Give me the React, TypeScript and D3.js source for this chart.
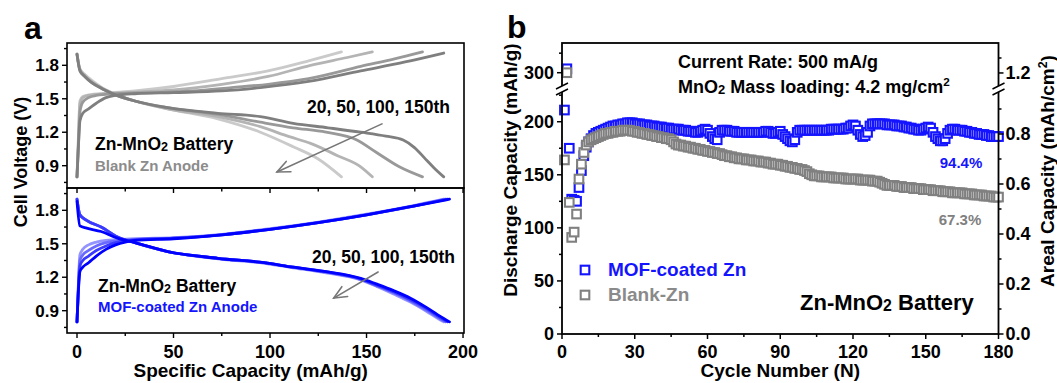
import React from 'react';
import * as d3 from 'd3';

// ---------- Panel a data: [specific capacity (mAh/g), voltage (V)] ----------
const cycleLabels = ['20th', '50th', '100th', '150th'];
const blankColors = ['#7f7f7f', '#999999', '#b4b4b4', '#cacaca'];
const mofColors = ['#0000ff', '#3a3aff', '#6a6aff', '#9494ff'];

const blankCharge20 = [[0,0.80],[0.8,1.10],[1.5,1.30],[3,1.37],[6,1.41],[10,1.46],[15,1.51],[20,1.53],[30,1.545],[50,1.555],[75,1.57],[95,1.60],[120,1.655],[147,1.75],[170,1.83],[190,1.91]];
const blankCharge50 = [[0,0.80],[0.8,1.10],[1.5,1.38],[3,1.47],[6,1.51],[10,1.53],[20,1.545],[40,1.555],[60,1.57],[80,1.60],[99,1.63],[120,1.68],[147,1.79],[165,1.86],[179,1.92]];
const blankCharge100 = [[0,0.80],[0.8,1.15],[1.5,1.45],[3,1.51],[6,1.53],[15,1.545],[30,1.56],[50,1.58],[75,1.63],[99,1.70],[121,1.80],[140,1.87],[153,1.92]];
const blankCharge150 = [[0,0.80],[0.8,1.20],[1.5,1.48],[3,1.52],[6,1.535],[15,1.55],[30,1.57],[50,1.61],[75,1.68],[99,1.75],[120,1.84],[137,1.92]];

const blankDis20 = [[0,1.90],[1.5,1.75],[4,1.70],[8,1.64],[13,1.59],[20,1.535],[30,1.48],[47,1.42],[73,1.37],[95,1.34],[112,1.28],[130,1.24],[147,1.20],[160,1.165],[169,1.13],[175,1.06],[180,0.97],[185,0.88],[190,0.80]];
const blankDis50 = [[0,1.90],[1.5,1.76],[4,1.70],[8,1.64],[13,1.59],[20,1.535],[30,1.48],[47,1.42],[73,1.36],[95,1.29],[112,1.24],[129,1.20],[145,1.13],[155,1.02],[167,0.89],[179,0.80]];
const blankDis100 = [[0,1.90],[1.5,1.76],[4,1.71],[8,1.65],[13,1.595],[20,1.54],[30,1.48],[47,1.41],[73,1.34],[95,1.25],[110,1.16],[121,1.10],[135,0.99],[147,0.89],[153,0.80]];
const blankDis150 = [[0,1.90],[1.5,1.77],[4,1.72],[8,1.66],[13,1.60],[20,1.54],[30,1.48],[47,1.41],[73,1.32],[95,1.20],[112,1.07],[125,0.96],[137,0.80]];

const mofCharge20 = [[0,0.80],[0.8,1.10],[1.5,1.25],[3,1.29],[6,1.33],[10,1.39],[15,1.45],[20,1.49],[25,1.515],[30,1.53],[50,1.545],[75,1.58],[100,1.63],[125,1.69],[150,1.76],[175,1.84],[193,1.90]];
const mofCharge50 = [[0,0.80],[0.8,1.12],[1.5,1.30],[3,1.35],[6,1.39],[10,1.44],[15,1.48],[20,1.51],[25,1.525],[30,1.535],[50,1.55],[75,1.58],[100,1.63],[125,1.69],[150,1.76],[175,1.84],[192,1.90]];
const mofCharge100 = [[0,0.80],[0.8,1.15],[1.5,1.35],[3,1.40],[6,1.44],[10,1.48],[15,1.51],[20,1.525],[30,1.54],[50,1.55],[75,1.58],[100,1.63],[125,1.69],[150,1.76],[175,1.84],[191,1.90]];
const mofCharge150 = [[0,0.80],[0.8,1.18],[1.5,1.40],[3,1.45],[6,1.49],[10,1.515],[15,1.53],[20,1.535],[30,1.545],[50,1.555],[75,1.585],[100,1.635],[125,1.695],[150,1.765],[175,1.845],[190,1.90]];

const mofDis20 = [[0,1.88],[1.5,1.66],[5,1.64],[12.5,1.61],[21,1.55],[30,1.51],[47,1.43],[73,1.37],[97,1.33],[112,1.29],[129,1.25],[147,1.19],[155,1.14],[164,1.08],[173,1.01],[181,0.93],[190,0.83],[193,0.80]];
const mofDis50 = [[0,1.90],[1.5,1.76],[5,1.71],[12.5,1.65],[21,1.56],[30,1.51],[47,1.43],[73,1.37],[97,1.33],[112,1.29],[129,1.25],[147,1.185],[155,1.13],[164,1.07],[173,0.995],[181,0.92],[189,0.83],[192,0.80]];
const mofDis100 = [[0,1.90],[1.5,1.76],[5,1.71],[12.5,1.65],[21,1.56],[30,1.51],[47,1.43],[73,1.37],[97,1.33],[112,1.29],[129,1.245],[147,1.18],[155,1.125],[164,1.06],[173,0.985],[181,0.905],[188,0.83],[191,0.80]];
const mofDis150 = [[0,1.90],[1.5,1.76],[5,1.71],[12.5,1.65],[21,1.56],[30,1.51],[47,1.43],[73,1.365],[97,1.325],[112,1.285],[129,1.24],[147,1.175],[155,1.12],[164,1.05],[173,0.975],[181,0.895],[187,0.83],[190,0.80]];

const blankCharge = [blankCharge20, blankCharge50, blankCharge100, blankCharge150];
const blankDischarge = [blankDis20, blankDis50, blankDis100, blankDis150];
const mofCharge = [mofCharge20, mofCharge50, mofCharge100, mofCharge150];
const mofDischarge = [mofDis20, mofDis50, mofDis100, mofDis150];

const capTicks = [0, 50, 100, 150, 200];
const capMinor = [25, 75, 125, 175];
const voltTicks = [0.9, 1.2, 1.5, 1.8];
const voltMinor = [0.75, 1.05, 1.35, 1.65, 1.95];

// ---------- Panel b data: discharge capacity (mAh/g) per cycle 1..180 ----------
const mofCapacity = [
  211, 305, 175, 127, 126, 125, 138, 154, 168, 176,
  181, 184, 187, 189, 190, 191, 192, 193, 194, 195,
  196, 196, 197, 197, 198, 198, 199, 199, 199, 198,
  198, 198, 197, 197, 197, 196, 196, 196, 195, 195,
  195, 194, 194, 194, 193, 193, 193, 193, 192, 192,
  192, 191, 191, 191, 190, 190, 191, 192, 193, 192,
  189, 186, 184, 183, 190, 192, 192, 192, 191, 191,
  191, 190, 190, 190, 190, 190, 190, 190, 190, 190,
  190, 190, 190, 191, 191, 190, 189, 189, 190, 191,
  188, 186, 184, 182, 181, 183, 190, 192, 192, 192,
  192, 192, 192, 192, 192, 192, 192, 192, 192, 192,
  193, 193, 193, 193, 193, 193, 194, 194, 196, 197,
  196, 192, 188, 186, 187, 190, 196, 198, 198, 198,
  198, 198, 198, 197, 197, 197, 197, 196, 196, 196,
  195, 195, 194, 194, 193, 193, 192, 192, 193, 194,
  195, 194, 190, 186, 184, 182, 182, 184, 189, 192,
  193, 193, 192, 192, 192, 191, 191, 190, 190, 189,
  189, 188, 188, 188, 187, 187, 186, 186, 186, 186,
];
const blankCapacity = [
  164, 300, 124, 91, 96, 113, 146, 160, 171, 178,
  181, 183, 184, 185, 186, 187, 188, 189, 189, 190,
  190, 191, 191, 191, 192, 192, 192, 192, 191, 191,
  190, 190, 189, 189, 188, 188, 187, 187, 186, 186,
  185, 185, 184, 184, 183, 181, 179, 178, 178, 177,
  177, 176, 176, 175, 175, 174, 174, 173, 173, 172,
  172, 171, 171, 170, 170, 169, 168, 168, 167, 167,
  166, 166, 165, 165, 165, 164, 164, 164, 163, 163,
  163, 162, 162, 162, 161, 161, 160, 160, 160, 159,
  159, 158, 158, 157, 157, 156, 156, 155, 155, 154,
  153, 151, 150, 149, 149, 149, 148, 148, 148, 148,
  148, 147, 147, 147, 147, 147, 146, 146, 146, 146,
  146, 146, 145, 145, 145, 145, 145, 144, 144, 144,
  143, 142, 141, 140, 140, 140, 140, 139, 139, 139,
  138, 138, 138, 138, 137, 137, 137, 137, 136, 136,
  136, 136, 135, 135, 135, 135, 134, 134, 134, 134,
  133, 133, 133, 133, 133, 132, 132, 132, 132, 131,
  131, 131, 131, 130, 130, 130, 130, 129, 129, 129,
];
const cycleTicks = [0, 30, 60, 90, 120, 150, 180];
const cycleMinor = [15, 45, 75, 105, 135, 165];
const capLowTicks = [0, 50, 100, 150, 200];
const capLowMinor = [25, 75, 125, 175, 225];
const capHighTicks = [300];
const capHighMinor = [325];
const arealLowTicks = [0.0, 0.2, 0.4, 0.6, 0.8];
const arealLowMinor = [0.1, 0.3, 0.5, 0.7, 0.9];
const arealHighTicks = [1.2];
const arealHighMinor = [1.3];
const retentionLabels = ['94.4%', '67.3%'];

const FONT = "'Liberation Sans', Arial, Helvetica, sans-serif";
const BLUE = '#1414ff';
const GRAY = '#808080';

function Arrow({ x1, y1, x2, y2, color }: any) {
  const ang = Math.atan2(y1 - y2, x1 - x2);
  const L = 14, a = 0.42;
  const p1 = [x2 + L * Math.cos(ang + a), y2 + L * Math.sin(ang + a)];
  const p2 = [x2 + L * Math.cos(ang - a), y2 + L * Math.sin(ang - a)];
  return (
    <g stroke={color} strokeWidth={1.6} fill="none" strokeLinecap="round">
      <line x1={x1} y1={y1} x2={x2} y2={y2} />
      <polyline points={`${p1[0]},${p1[1]} ${x2},${y2} ${p2[0]},${p2[1]}`} />
    </g>
  );
}

function BreakMark({ x, y }: any) {
  return (
    <g>
      <rect x={x - 4} y={y - 3} width={8} height={6} fill="white" />
      <line x1={x - 6} y1={y} x2={x + 6} y2={y - 6} stroke="black" strokeWidth={1.4} />
      <line x1={x - 6} y1={y + 6} x2={x + 6} y2={y} stroke="black" strokeWidth={1.4} />
    </g>
  );
}

export default function App() {
  // ----- panel a scales -----
  const ax0 = 67, ax1 = 464;
  const xA = d3.scaleLinear().domain([-5.18, 200.5]).range([ax0, ax1]);
  const yTop = d3.scaleLinear().domain([0.7, 2.0]).range([188, 43]);
  const yBot = d3.scaleLinear().domain([0.7, 2.0]).range([333, 188]);

  const lineTop = d3.line<number[]>().x(d => xA(d[0])).y(d => yTop(d[1])).curve(d3.curveMonotoneX);
  const lineBot = d3.line<number[]>().x(d => xA(d[0])).y(d => yBot(d[1])).curve(d3.curveMonotoneX);

  // ----- panel b scales -----
  const bx0 = 562, bx1 = 998.5, bTop = 43, bBot = 334;
  const xB = d3.scaleLinear().domain([0, 180]).range([bx0, bx1]);
  const yLow = d3.scaleLinear().domain([0, 228]).range([bBot, 92]);
  const yHigh = d3.scaleLinear().domain([283, 338]).range([86, bTop]);
  const yCap = (v: number) => (v >= 260 ? yHigh(v) : yLow(v));
  const rLow = d3.scaleLinear().domain([0, 0.968]).range([bBot, 92]);
  const rHigh = d3.scaleLinear().domain([1.113, 1.4]).range([86, bTop]);

  const tickFontA = 17;
  const tickFontB = 18;
  const ms = 8.6;
  const msw = 2.1;

  const voltAxis = (ys: any) => (
    <g>
      {voltTicks.map(v => (
        <g key={'vt' + v}>
          <line x1={ax0 - 5} x2={ax0} y1={ys(v)} y2={ys(v)} stroke="black" strokeWidth={1.4} />
          <text x={ax0 - 8} y={ys(v)} dy="0.36em" textAnchor="end" fontSize={tickFontA} fontWeight="bold">{v.toFixed(1)}</text>
        </g>
      ))}
      {voltMinor.map(v => (
        <line key={'vm' + v} x1={ax0 - 3} x2={ax0} y1={ys(v)} y2={ys(v)} stroke="black" strokeWidth={1.4} />
      ))}
    </g>
  );

  return (
    <svg width={1057} height={383} style={{ position: 'absolute', left: 0, top: 0, background: 'white' }} fontFamily={FONT}>
      <rect x={0} y={0} width={1057} height={383} fill="white" />

      {/* ================= Panel a ================= */}
      <text x={24} y={39} fontSize={32} fontWeight="bold">a</text>

      {/* top: blank Zn */}
      {[3, 2, 1, 0].map(i => (
        <g key={'bl' + i}>
          <path d={lineTop(blankCharge[i]) || ''} fill="none" stroke={blankColors[i]} strokeWidth={2.8} strokeLinecap="round" strokeLinejoin="round" />
          <path d={lineTop(blankDischarge[i]) || ''} fill="none" stroke={blankColors[i]} strokeWidth={2.8} strokeLinecap="round" strokeLinejoin="round" />
        </g>
      ))}
      {/* bottom: MOF-coated Zn */}
      {[3, 2, 1, 0].map(i => (
        <g key={'mo' + i}>
          <path d={lineBot(mofCharge[i]) || ''} fill="none" stroke={mofColors[i]} strokeWidth={2.8} strokeLinecap="round" strokeLinejoin="round" />
          <path d={lineBot(mofDischarge[i]) || ''} fill="none" stroke={mofColors[i]} strokeWidth={2.8} strokeLinecap="round" strokeLinejoin="round" />
        </g>
      ))}

      <rect x={ax0} y={43} width={ax1 - ax0} height={145} fill="none" stroke="black" strokeWidth={1.6} />
      <rect x={ax0} y={188} width={ax1 - ax0} height={145} fill="none" stroke="black" strokeWidth={1.6} />

      {voltAxis(yTop)}
      {voltAxis(yBot)}

      {/* x ticks on separator (inward into bottom panel) and bottom */}
      {capTicks.concat(capMinor).map(c => (
        <g key={'ct' + c}>
          <line x1={xA(c)} x2={xA(c)} y1={188} y2={capTicks.includes(c) ? 193 : 191.5} stroke="black" strokeWidth={1.4} />
          <line x1={xA(c)} x2={xA(c)} y1={333} y2={capTicks.includes(c) ? 338 : 336} stroke="black" strokeWidth={1.4} />
        </g>
      ))}
      {capTicks.map(c => (
        <text key={'cl' + c} x={xA(c)} y={358} textAnchor="middle" fontSize={18} fontWeight="bold">{c}</text>
      ))}
      <text x={xA(90)} y={377} textAnchor="middle" fontSize={19} fontWeight="bold">Specific Capacity (mAh/g)</text>
      <text transform="translate(27,162) rotate(-90)" textAnchor="middle" fontSize={18} fontWeight="bold">Cell Voltage (V)</text>

      {/* annotations top */}
      <text x={95} y={150} fontSize={17.5} fontWeight="bold">Zn-MnO<tspan fontSize="72%" dy="1">2</tspan><tspan dy="-1"> Battery</tspan></text>
      <text x={95} y={171} fontSize={15} fontWeight="bold" fill="#8c8c8c">Blank Zn Anode</text>
      <text x={307} y={113} fontSize={17.5} fontWeight="bold">20, 50, 100, 150th</text>
      <Arrow x1={xA(158)} y1={yTop(1.275)} x2={xA(103.6)} y2={yTop(0.844)} color="#777777" />

      {/* annotations bottom */}
      <text x={98} y={292} fontSize={17.5} fontWeight="bold">Zn-MnO<tspan fontSize="72%" dy="1">2</tspan><tspan dy="-1"> Battery</tspan></text>
      <text x={98} y={312} fontSize={15} fontWeight="bold" fill={BLUE}>MOF-coated Zn Anode</text>
      <text x={312} y={263} fontSize={17.5} fontWeight="bold">20, 50, 100, 150th</text>
      <Arrow x1={xA(156)} y1={yBot(1.247)} x2={xA(133)} y2={yBot(1.013)} color="#777777" />

      {/* ================= Panel b ================= */}
      <text x={507} y={38} fontSize={32} fontWeight="bold">b</text>

      {mofCapacity.map((v, i) => (
        <rect key={'m' + i} x={xB(i + 1) - ms / 2} y={yCap(v) - ms / 2} width={ms} height={ms} fill="white" stroke={BLUE} strokeWidth={msw} />
      ))}
      {blankCapacity.map((v, i) => (
        <rect key={'b' + i} x={xB(i + 1) - ms / 2} y={yCap(v) - ms / 2} width={ms} height={ms} fill="white" stroke={GRAY} strokeWidth={msw} />
      ))}

      <rect x={bx0} y={bTop} width={bx1 - bx0} height={bBot - bTop} fill="none" stroke="black" strokeWidth={1.8} />

      {/* left axis */}
      {capLowTicks.map(v => (
        <g key={'lt' + v}>
          <line x1={bx0 - 5} x2={bx0} y1={yLow(v)} y2={yLow(v)} stroke="black" strokeWidth={1.5} />
          <text x={bx0 - 8} y={yLow(v)} dy="0.36em" textAnchor="end" fontSize={tickFontB} fontWeight="bold">{v}</text>
        </g>
      ))}
      {capLowMinor.map(v => (
        <line key={'lm' + v} x1={bx0 - 3} x2={bx0} y1={yLow(v)} y2={yLow(v)} stroke="black" strokeWidth={1.5} />
      ))}
      {capHighTicks.map(v => (
        <g key={'ht' + v}>
          <line x1={bx0 - 5} x2={bx0} y1={yHigh(v)} y2={yHigh(v)} stroke="black" strokeWidth={1.5} />
          <text x={bx0 - 8} y={yHigh(v)} dy="0.36em" textAnchor="end" fontSize={tickFontB} fontWeight="bold">{v}</text>
        </g>
      ))}
      {capHighMinor.map(v => (
        <line key={'hm' + v} x1={bx0 - 3} x2={bx0} y1={yHigh(v)} y2={yHigh(v)} stroke="black" strokeWidth={1.5} />
      ))}

      {/* right axis */}
      {arealLowTicks.map(v => (
        <g key={'rt' + v}>
          <line x1={bx1} x2={bx1 + 5} y1={rLow(v)} y2={rLow(v)} stroke="black" strokeWidth={1.5} />
          <text x={bx1 + 7} y={rLow(v)} dy="0.36em" textAnchor="start" fontSize={tickFontB} fontWeight="bold">{v.toFixed(1)}</text>
        </g>
      ))}
      {arealLowMinor.map(v => (
        <line key={'rm' + v} x1={bx1} x2={bx1 + 3} y1={rLow(v)} y2={rLow(v)} stroke="black" strokeWidth={1.5} />
      ))}
      {arealHighTicks.map(v => (
        <g key={'rht' + v}>
          <line x1={bx1} x2={bx1 + 5} y1={rHigh(v)} y2={rHigh(v)} stroke="black" strokeWidth={1.5} />
          <text x={bx1 + 7} y={rHigh(v)} dy="0.36em" textAnchor="start" fontSize={tickFontB} fontWeight="bold">{v.toFixed(1)}</text>
        </g>
      ))}
      {arealHighMinor.map(v => (
        <line key={'rhm' + v} x1={bx1} x2={bx1 + 3} y1={rHigh(v)} y2={rHigh(v)} stroke="black" strokeWidth={1.5} />
      ))}

      <BreakMark x={bx0} y={89} />
      <BreakMark x={bx1} y={89} />

      {/* bottom axis */}
      {cycleTicks.map(c => (
        <g key={'xt' + c}>
          <line x1={xB(c)} x2={xB(c)} y1={bBot} y2={bBot + 5} stroke="black" strokeWidth={1.5} />
          <text x={xB(c)} y={358} textAnchor="middle" fontSize={tickFontB} fontWeight="bold">{c}</text>
        </g>
      ))}
      {cycleMinor.map(c => (
        <line key={'xm' + c} x1={xB(c)} x2={xB(c)} y1={bBot} y2={bBot + 3} stroke="black" strokeWidth={1.5} />
      ))}

      <text x={xB(90)} y={377} textAnchor="middle" fontSize={19} fontWeight="bold">Cycle Number (N)</text>
      <text transform="translate(517,170) rotate(-90)" textAnchor="middle" fontSize={19} fontWeight="bold">Discharge Capacity (mAh/g)</text>
      <text transform="translate(1054,171) rotate(-90)" textAnchor="middle" fontSize={19} fontWeight="bold">Areal Capacity (mAh/cm<tspan fontSize="65%" dy="-7">2</tspan><tspan dy="7">)</tspan></text>

      <text x={678} y={68} fontSize={18} fontWeight="bold">Current Rate: 500 mA/g</text>
      <text x={678} y={93} fontSize={18} fontWeight="bold">MnO<tspan fontSize="72%" dy="1">2</tspan><tspan dy="-1"> Mass loading: 4.2 mg/cm</tspan><tspan fontSize="65%" dy="-7">2</tspan></text>

      <text x={961} y={168} textAnchor="middle" fontSize={15} fontWeight="bold" fill={BLUE}>{retentionLabels[0]}</text>
      <text x={960} y={225} textAnchor="middle" fontSize={15} fontWeight="bold" fill={GRAY}>{retentionLabels[1]}</text>

      {/* legend */}
      <rect x={585 - ms / 2} y={270 - ms / 2} width={ms} height={ms} fill="white" stroke={BLUE} strokeWidth={msw} />
      <text x={608} y={276} fontSize={19} fontWeight="bold" fill={BLUE}>MOF-coated Zn</text>
      <rect x={585 - ms / 2} y={295 - ms / 2} width={ms} height={ms} fill="white" stroke={GRAY} strokeWidth={msw} />
      <text x={608} y={301} fontSize={19} fontWeight="bold" fill="#8a8a8a">Blank-Zn</text>

      <text x={800} y={310} fontSize={22} fontWeight="bold">Zn-MnO<tspan fontSize="72%" dy="1">2</tspan><tspan dy="-1"> Battery</tspan></text>
    </svg>
  );
}
